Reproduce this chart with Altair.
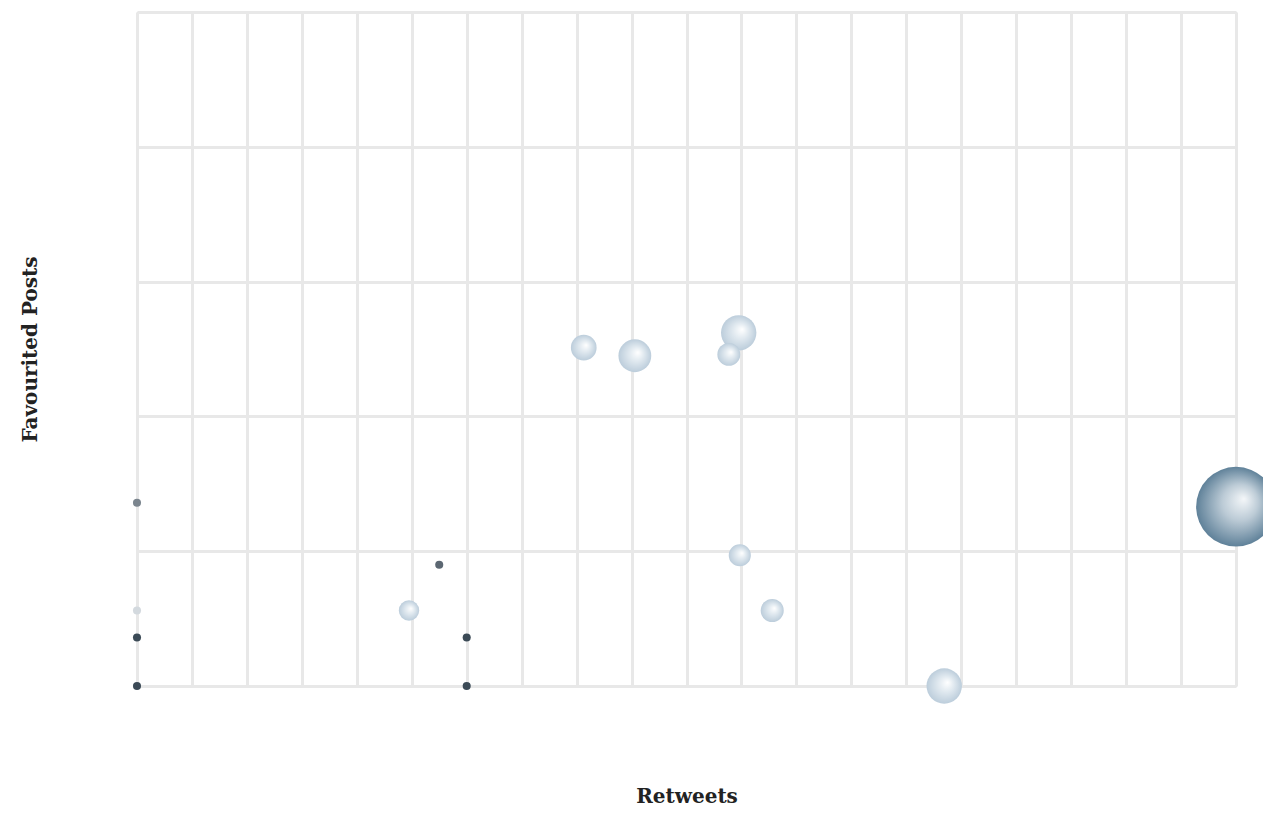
import altair as alt
import pandas as pd

# Bubble data (axis units: x 0-20, y 0-5)
retweets   = [0.0, 0.0, 0.0, 0.0, 5.5, 4.95, 6.0, 6.0, 8.13, 9.06, 10.95, 10.77, 10.97, 11.56, 14.69, 20.0]
favourites = [1.36, 0.56, 0.36, 0.0, 0.90, 0.56, 0.36, 0.0, 2.51, 2.45, 2.62, 2.46, 0.97, 0.56, 0.0, 1.33]
weight     = [1.3, 1.3, 1.3, 1.3, 1.3, 8.3, 1.3, 1.3, 13.2, 21.5, 25.0, 10.5, 9.8, 10.6, 25.0, 127.0]
group      = ["grey", "pale", "dark", "dark", "mid", "light", "dark", "dark",
              "light", "light", "light", "light", "light", "light", "light", "steel"]

df = pd.DataFrame({"Retweets": retweets, "Favourited Posts": favourites,
                   "weight": weight, "group": group})

x_ticks = list(range(0, 21))
y_ticks = list(range(0, 6))

font = "DejaVu Serif"

x_enc = alt.X("Retweets:Q",
              scale=alt.Scale(domain=[0, 20], nice=False, zero=False),
              axis=alt.Axis(values=x_ticks, labels=False, ticks=False, domain=False,
                            grid=True, gridColor="#e8e8e8", gridWidth=3,
                            title="Retweets", titleFont=font, titleFontSize=20,
                            titleFontWeight="bold", titleColor="#222222",
                            titlePadding=100))
y_enc = alt.Y("Favourited Posts:Q",
              scale=alt.Scale(domain=[0, 5], nice=False, zero=False),
              axis=alt.Axis(values=y_ticks, labels=False, ticks=False, domain=False,
                            grid=True, gridColor="#e8e8e8", gridWidth=3,
                            title="Favourited Posts", titleFont=font, titleFontSize=20,
                            titleFontWeight="bold", titleColor="#222222",
                            titlePadding=97))
size_enc = alt.Size("weight:Q", scale=alt.Scale(domain=[0, 127], range=[0, 6360], zero=True),
                    legend=None)


def radial(edge, mid, center="#ffffff", cx=0.6, cy=0.4, mid_at=0.4):
    return alt.RadialGradient(
        gradient="radial", x1=cx, y1=cy, r1=0.0, x2=0.5, y2=0.5, r2=0.5,
        stops=[alt.GradientStop(color=center, offset=0.0),
               alt.GradientStop(color=mid, offset=mid_at),
               alt.GradientStop(color=edge, offset=1.0)])


styles = {
    "dark": "#3b4a56",
    "mid": "#5c6772",
    "grey": "#7b858e",
    "pale": "#d3d9de",
    "light": radial("#bccddb", "#e3ebf1"),
    "steel": radial("#5f8199", "#bccbd6", center="#f4f7f9", mid_at=0.45),
}

base = alt.Chart(df)
layers = []
for g in ["light", "pale", "grey", "mid", "dark", "steel"]:
    layers.append(
        base.transform_filter(alt.datum.group == g)
        .mark_circle(color=styles[g], opacity=1)
        .encode(x=x_enc, y=y_enc, size=size_enc)
    )

chart = alt.layer(*layers).properties(
    width=1099, height=674,
    autosize=alt.AutoSizeParams(type="none"),
    padding={"left": 129, "top": 4, "right": 27, "bottom": 124},
).configure_view(stroke=None).configure(background="white")

chart.save("out.html", embed_options={"renderer": "svg", "actions": False})
